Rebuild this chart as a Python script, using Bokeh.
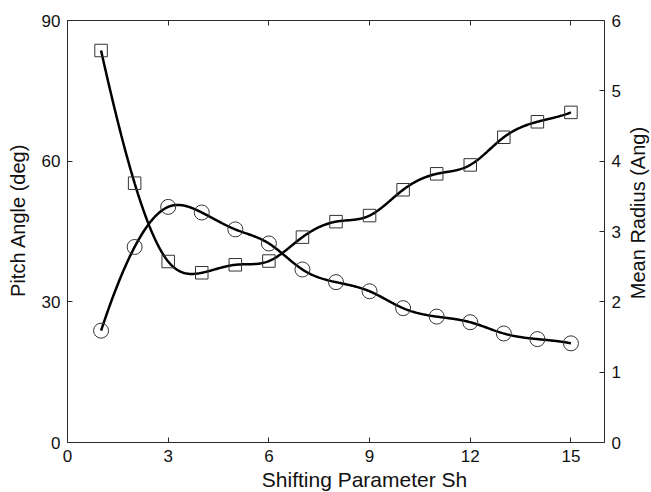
import numpy as np
from bokeh.plotting import figure
from bokeh.models import Range1d, LinearAxis, FixedTicker
from bokeh.layouts import row, column
from bokeh.core.properties import value
from bokeh.embed import file_html
from bokeh.resources import INLINE

# ---- data ----
shift_param = [1, 2, 3, 4, 5, 6, 7, 8, 9, 10, 11, 12, 13, 14, 15]
pitch_angle_deg = [83.6, 55.3, 38.6, 36.2, 37.9, 38.7, 43.8, 47.1, 48.4,
                   53.9, 57.3, 59.2, 65.1, 68.4, 70.4]
mean_radius_ang = [1.59, 2.78, 3.35, 3.27, 3.03, 2.83, 2.46, 2.28, 2.15,
                   1.91, 1.79, 1.71, 1.55, 1.47, 1.41]
x_ticks = [0, 3, 6, 9, 12, 15]
left_ticks = [0, 30, 60, 90]
right_ticks = [0, 1, 2, 3, 4, 5, 6]
x_title = "Shifting Parameter Sh"
left_title = "Pitch Angle (deg)"
right_title = "Mean Radius (Ang)"


def spline_curve(x, y, n=600):
    """Not-a-knot cubic spline through the data points (for the smooth line)."""
    x = np.asarray(x, float)
    y = np.asarray(y, float)
    m = len(x)
    h = np.diff(x)
    A = np.zeros((m, m))
    b = np.zeros(m)
    A[0, 0], A[0, 1], A[0, 2] = h[1], -(h[0] + h[1]), h[0]
    A[-1, -3], A[-1, -2], A[-1, -1] = h[-1], -(h[-2] + h[-1]), h[-2]
    for i in range(1, m - 1):
        A[i, i - 1] = h[i - 1]
        A[i, i] = 2 * (h[i - 1] + h[i])
        A[i, i + 1] = h[i]
        b[i] = 6 * ((y[i + 1] - y[i]) / h[i] - (y[i] - y[i - 1]) / h[i - 1])
    M = np.linalg.solve(A, b)
    xs = np.linspace(x[0], x[-1], n)
    idx = np.clip(np.searchsorted(x, xs) - 1, 0, m - 2)
    x0, x1 = x[idx], x[idx + 1]
    hh = x1 - x0
    t0, t1 = x1 - xs, xs - x0
    ys = (M[idx] * t0 ** 3 / (6 * hh) + M[idx + 1] * t1 ** 3 / (6 * hh)
          + (y[idx] / hh - M[idx] * hh / 6) * t0
          + (y[idx + 1] / hh - M[idx + 1] * hh / 6) * t1)
    return xs, ys


FONT = "Liberation Sans"
TXT = "#111111"
AX = "#2a2a2a"
ROW_H = 469
LEFT_W = 35
MAIN_W = 588
RIGHT_W = 28
BOTTOM_H = 23

# ---------------- main plot ----------------
p = figure(width=MAIN_W, height=ROW_H, output_backend="svg",
           toolbar_location=None,
           x_range=Range1d(0, 16), y_range=Range1d(0, 90),
           min_border_left=32, min_border_right=17, min_border_top=20,
           min_border_bottom=27, background_fill_color="white",
           border_fill_color="white")
p.extra_y_ranges = {"radius": Range1d(0, 6)}
p.grid.visible = False
p.outline_line_color = None


def style_axis(ax, ticks, show_labels=True):
    ax.ticker = FixedTicker(ticks=ticks)
    ax.minor_tick_line_color = None
    ax.major_tick_in = 5
    ax.major_tick_out = 0
    ax.major_tick_line_color = AX
    ax.axis_line_color = AX
    ax.axis_line_width = 1
    if show_labels:
        ax.major_label_text_font = FONT
        ax.major_label_text_font_size = "17px"
        ax.major_label_text_color = TXT
        ax.major_label_standoff = 7
    else:
        ax.major_label_overrides = {t: "" for t in ticks}
        ax.major_label_text_color = None
        ax.major_label_standoff = 0


style_axis(p.xaxis[0], x_ticks)
style_axis(p.yaxis[0], left_ticks)

right_axis = LinearAxis(y_range_name="radius")
style_axis(right_axis, right_ticks)
p.add_layout(right_axis, "right")

top_axis = LinearAxis()
style_axis(top_axis, x_ticks, show_labels=False)
p.add_layout(top_axis, "above")

xs, ys = spline_curve(shift_param, pitch_angle_deg)
p.line(xs, ys, line_color="black", line_width=2.5)
p.scatter(shift_param, pitch_angle_deg, marker="square", size=12.5,
          fill_color=None, line_color="#333333", line_width=1)

xs2, ys2 = spline_curve(shift_param, mean_radius_ang)
p.line(xs2, ys2, line_color="black", line_width=2.5, y_range_name="radius")
p.scatter(shift_param, mean_radius_ang, marker="circle", size=15,
          fill_color=None, line_color="#333333", line_width=1,
          y_range_name="radius")


# ---------------- title strips (pixel coordinates) ----------------
def strip(w, h):
    s = figure(width=w, height=h, output_backend="svg", toolbar_location=None,
               x_range=Range1d(0, w), y_range=Range1d(0, h),
               x_axis_location=None, y_axis_location=None,
               min_border=0, min_border_left=0, min_border_right=0,
               min_border_top=0, min_border_bottom=0,
               background_fill_color="white", border_fill_color="white")
    s.grid.visible = False
    s.outline_line_color = None
    return s


def add_title(s, x, y, txt, angle, size):
    s.text(x=[x], y=[y], text=[txt], angle=angle, text_align="center",
           text_baseline="alphabetic", text_font=value(FONT),
           text_font_size=value(size), text_color=TXT)


left_strip = strip(LEFT_W, ROW_H)
add_title(left_strip, 17, ROW_H - 222, left_title, np.pi / 2, "20px")

right_strip = strip(RIGHT_W, ROW_H)
add_title(right_strip, 14, ROW_H - 214, right_title, np.pi / 2, "20px")

bottom_strip = strip(LEFT_W + MAIN_W + RIGHT_W, BOTTOM_H)
add_title(bottom_strip, 364, 13, x_title, 0, "21px")

layout = column(row(left_strip, p, right_strip, spacing=0), bottom_strip,
                spacing=0)

open("out.html", "w").write(file_html(layout, INLINE))
